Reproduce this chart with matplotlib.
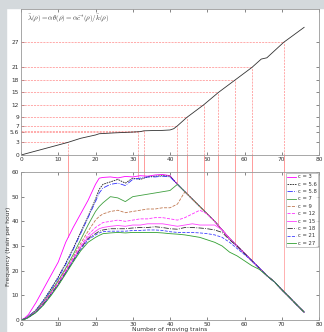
import numpy as np
import matplotlib.pyplot as plt
from matplotlib.patches import Rectangle

plt.rcParams['mathtext.fontset'] = 'cm'

# capacity levels c and where the top curve reaches them
c_vals = [3, 5.6, 5.8, 7, 9, 12, 15, 18, 21, 27]
c_cross = [12.5, 31.5, 33, 42, 44.5, 49, 53, 57.5, 62, 70.5]
c_labels = ['c = 3', 'c = 5.6', 'c = 5.8', 'c = 7', 'c = 9', 'c = 12',
            'c = 15', 'c = 18', 'c = 21', 'c = 27']
# frequency at the crossing x (end of the red verticals in the lower panel)
c_freq = [33.5, 58, 58, 55, 52, 44.5, 38.2, 31, 24, 11.5]

# top panel curve
top_x = [0, 12.5, 16, 20, 21, 25, 30, 32, 33, 35, 38, 40, 41, 42, 44.5, 49,
         53, 57.5, 62, 64.5, 66, 70.5, 76]
top_y = [0, 3, 4, 4.8, 5.1, 5.3, 5.5, 5.6, 5.8, 5.85, 5.9, 6.0, 6.3, 7, 9,
         12, 15, 18, 21, 23, 23.3, 27, 30.6]

# lower panel: common x grid
xs = [0, 1, 2, 4, 6, 8, 10, 12, 14, 16, 18, 20, 21, 22, 24, 26, 28, 30, 32,
      34, 36, 38, 40, 42, 44, 46, 48, 50, 52, 54, 56, 58, 60, 62, 64, 66, 68,
      70, 72, 74, 76]
# shared descending branch for x = 40..76
tail = [58, 55, 52, 49, 46, 43, 40, 36.5, 33, 30, 27, 24, 21, 18, 15.5, 12.3,
        9.3, 6.2, 3.2]

f3 = [0, 0.8, 2.2, 7, 12.5, 18, 23.5, 31.5, 37.5, 43, 48.5, 55, 57.5, 57.8,
      58, 57.6, 58.2, 58, 58.5, 58.3, 58.8, 59, 58.5]
f56 = [0, 0.5, 1.5, 4, 8, 12.5, 17.5, 23, 29, 35.5, 42, 49, 53, 55, 56, 57,
       55.5, 57.5, 57, 58, 58.3, 58.5, 58.3]
f58 = [0, 0.5, 1.5, 4, 7.8, 12.2, 17, 22.5, 28.5, 35, 41.5, 48, 51.5, 53.5,
       55, 55.5, 54.5, 57, 57.5, 58, 58, 58.3, 58]
f7 = [0, 0.4, 1.3, 3.7, 7.2, 11.5, 16, 21, 26.5, 32.5, 38.5, 44, 46, 47.5,
      50, 49.5, 48, 50, 50.5, 51, 51.5, 52, 52.5]
f9 = [0, 0.4, 1.2, 3.5, 7, 11, 15.5, 20.5, 25.5, 31, 36, 40.5, 42, 43, 44,
      44.5, 43.5, 44, 44.5, 45, 45, 45.5, 45.5, 47]
f12 = [0, 0.4, 1.2, 3.4, 6.8, 10.8, 15, 20, 25, 30, 34.5, 37.5, 38.5, 39.5,
       40, 40.5, 40, 40.5, 41, 41, 41.5, 41.5, 41, 40.5, 41.5, 43, 44.5]
f15 = [0, 0.4, 1.1, 3.3, 6.6, 10.5, 14.7, 19.5, 24.5, 29.5, 33.5, 36, 37,
       37.5, 38, 38.3, 38, 38.5, 38.5, 39, 39, 39, 38.5, 38, 38.5, 39, 38.5,
       38.5, 38.5]
f18 = [0, 0.4, 1.1, 3.2, 6.4, 10.3, 14.5, 19.2, 24, 29, 33, 35, 36, 36.5, 37,
       37, 37, 37.3, 37.5, 37.5, 37.8, 37.5, 37, 36.8, 37.5, 37.5, 37.3, 37,
       36.5, 35.5, 32.5]
f21 = [0, 0.3, 1, 3.1, 6.2, 10, 14.2, 19, 23.8, 28.5, 32.5, 34.5, 35.3, 35.8,
       36, 36, 36, 36.3, 36.3, 36.5, 36.5, 36.3, 35.8, 35.5, 35.5, 35.5, 35.3,
       35, 34.5, 33.5, 31.5, 29, 26.5]
f27 = [0, 0.3, 1, 3, 6, 9.8, 14, 18.7, 23.5, 28, 31.5, 33.5, 34.3, 35, 35.3,
       35.5, 35.3, 35.5, 35.5, 35.5, 35.5, 35.3, 35, 34.8, 34.5, 34, 33.5,
       32.5, 31.5, 30, 27.5, 26, 24, 22, 20.5]
series = [f3, f56, f58, f7, f9, f12, f15, f18, f21, f27]

colors = ['#ff00ff', '#202020', '#3030ff', '#40a040', '#c07850', '#ff30ff',
          '#ff40ff', '#303030', '#4040ff', '#30a030']
styles = ['-', (0, (2, 1)), '-.', '-', '--', '--', '-', '-.', '--', '-']

W, H = 324, 332
fig = plt.figure(figsize=(W / 100, H / 100), dpi=100)
fig.patch.set_facecolor('white')
fig.patches.append(Rectangle((0, 1 - 8 / H), 1, 8 / H, transform=fig.transFigure,
                             color='#d4d9dc', zorder=-10))
fig.patches.append(Rectangle((0, 0), 6 / W, 1, transform=fig.transFigure,
                             color='#d4d9dc', zorder=-10))

l, r = 21 / W, 319 / W
top_b, top_t = 1 - 155 / H, 1 - 9 / H
bot_b, bot_t = 1 - 320 / H, 1 - 172 / H
ax1 = fig.add_axes([l, top_b, r - l, top_t - top_b])
ax2 = fig.add_axes([l, bot_b, r - l, bot_t - bot_b])

red = '#ff8a8a'
for ax in (ax1, ax2):
    ax.set_xlim(0, 80)
    ax.set_xticks(range(0, 81, 10))
    ax.tick_params(direction='in', length=2.5, width=0.5, labelsize=4.2,
                   colors='#555555', labelcolor='#333333', pad=1.5,
                   top=True, right=True)
    for s in ax.spines.values():
        s.set_color('#999999')
        s.set_linewidth(0.6)

# top panel
ax1.set_ylim(0, 35)
ax1.set_yticks([0, 3, 5.6, 7, 9, 12, 15, 18, 21, 27])
ax1.set_yticklabels(['0', '3', '5.6', '7', '9', '12', '15', '18', '21', '27'])
gap = (top_b - bot_t) / (top_t - top_b) * 35
for c, xc in zip(c_vals, c_cross):
    ax1.plot([0, xc], [c, c], color=red, lw=0.5, ls=(0, (3, 1.5)))
    ax1.plot([xc, xc], [0, c], color=red, lw=0.5, ls=(0, (3, 1.5)))
    ax1.plot([xc, xc], [0, -gap], color=red, lw=0.6, clip_on=False)
ax1.plot(top_x, top_y, color='#333333', lw=0.6)
ax1.text(0.02, 0.93, r'$\bar{\lambda}(\rho)=\alpha\theta(\rho)=\alpha\bar{c}^{*}(\rho)/\bar{k}(\rho)$',
         transform=ax1.transAxes, fontsize=5, color='#333333', va='center')

# lower panel
ax2.set_ylim(0, 60)
ax2.set_yticks(range(0, 61, 10))
for xc, fc in zip(c_cross, c_freq):
    ax2.plot([xc, xc], [fc, 60], color='#ffb0b0', lw=0.7, zorder=1)
for f, lab, col, st in zip(series, c_labels, colors, styles):
    y = f + tail[len(f) - 22:]
    ax2.plot(xs, y, color=col, ls=st, lw=0.6, label=lab)
ax2.set_xlabel('Number of moving trains', fontsize=4.3, color='#333333', labelpad=0)
ax2.set_ylabel('Frequency (train per hour)', fontsize=4.3, color='#333333', labelpad=0.5)
leg = ax2.legend(loc='upper right', fontsize=3.8, handlelength=1.7,
                 handletextpad=0.25, labelspacing=0.45, borderpad=0.3,
                 borderaxespad=0.15, fancybox=False)
leg.get_frame().set_edgecolor('#999999')
leg.get_frame().set_linewidth(0.5)
for t in leg.get_texts():
    t.set_color('#333333')

fig.savefig('out.png', dpi=100, facecolor=fig.get_facecolor())
